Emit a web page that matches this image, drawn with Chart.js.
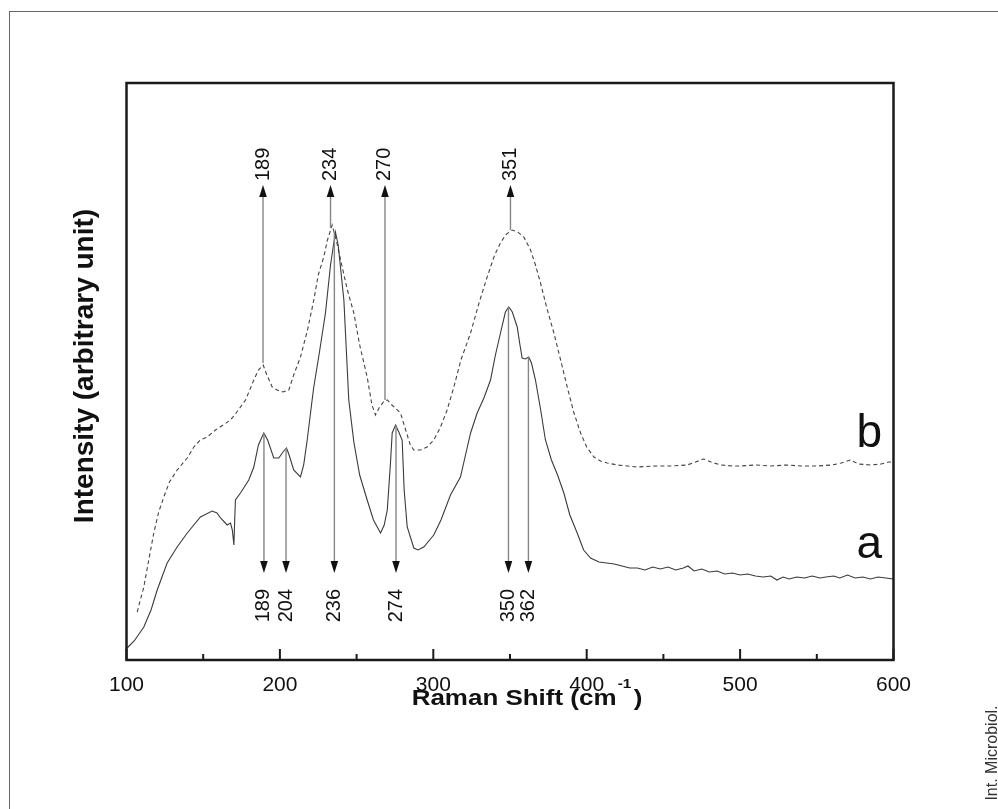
<!DOCTYPE html>
<html>
<head>
<meta charset="utf-8">
<title>Raman spectra</title>
<script src="https://cdn.jsdelivr.net/npm/chart.js@4.4.0/dist/chart.umd.min.js"></script>
<style>
  html, body { margin: 0; padding: 0; background: #fff; }
  #wrap { position: relative; width: 998px; height: 809px; overflow: hidden; }
  #frame { position: absolute; left: 9px; top: 11px; width: 1000px; height: 820px; border-left: 1.5px solid #666; border-top: 1.5px solid #666; }
  #raman { position: absolute; left: 0; top: 0; }
</style>
</head>
<body>
<div id="wrap">
  <div id="frame"></div>
  <canvas id="raman" width="998" height="809"></canvas>
</div>
<script>
// spectrum a (solid)
const aShift = [100.4, 105, 111.3, 116, 120, 126.5, 133, 139.6, 148.2, 155.8, 159, 161.3, 165.6, 167.8, 169, 170, 171, 174.3, 179.7, 183, 186, 189.5, 192, 196, 199.3, 202, 204.3, 206, 209, 213.4, 215.5, 217.8, 221, 222.1, 226, 229.7, 233, 236.2, 238, 241.7, 244.9, 248.2, 252, 256.9, 261, 265.6, 268, 270, 272, 273.2, 275.4, 277.5, 279.7, 281, 283, 287.3, 290, 293.8, 300.3, 305, 311.2, 317.7, 321, 324.3, 328.6, 333, 337.3, 340.5, 343.8, 347, 349.2, 351.5, 354.7, 356.5, 357.9, 360, 362.2, 364, 366.6, 370, 373.1, 377, 381, 385.1, 389, 393.8, 398, 402.5, 408, 413, 418, 423, 428, 433, 438, 443, 448, 453, 458, 463, 466, 470, 475, 480, 485, 490, 495, 500, 505, 510, 515, 520, 524, 528, 532, 537, 542, 547, 552, 556, 561, 565, 570, 575, 580, 585, 590, 595, 600];
const aIntensity = [1.2, 1.9, 3.3, 5.0, 7.0, 9.7, 11.3, 12.7, 14.3, 14.9, 14.7, 14.2, 13.5, 13.7, 13.0, 11.5, 16.0, 16.7, 18.0, 19.3, 21.5, 22.7, 22.0, 20.2, 20.2, 20.8, 21.2, 20.5, 19.0, 18.3, 19.5, 22.0, 26.0, 27.3, 31.0, 34.7, 39.5, 42.8, 41.5, 36.0, 26.0, 21.8, 18.5, 16.0, 14.0, 12.7, 13.5, 15.0, 19.5, 22.7, 23.5, 22.8, 22.0, 17.0, 13.3, 11.2, 11.0, 11.3, 12.5, 14.0, 16.5, 18.3, 20.5, 22.7, 24.7, 26.2, 28.0, 30.5, 32.7, 34.8, 35.3, 34.8, 33.3, 31.5, 30.2, 30.1, 30.3, 29.7, 28.0, 25.0, 22.0, 20.0, 18.5, 16.7, 14.5, 12.7, 11.0, 10.2, 9.8, 9.7, 9.6, 9.4, 9.2, 9.2, 9.0, 9.3, 9.1, 9.3, 9.0, 9.2, 9.4, 8.9, 9.1, 8.8, 8.9, 8.6, 8.7, 8.5, 8.6, 8.4, 8.3, 8.4, 8.0, 8.3, 8.1, 8.3, 8.2, 8.4, 8.2, 8.3, 8.4, 8.2, 8.5, 8.2, 8.3, 8.1, 8.3, 8.2, 8.1];

// spectrum b (dashed)
const bShift = [107, 109, 111.3, 114.5, 117.8, 121, 124.3, 128, 133, 139.6, 143.9, 148, 152.6, 158, 163, 167.8, 171, 174.3, 177.6, 183, 186, 189.1, 191.5, 195, 198.2, 202, 205.8, 209, 213.4, 218, 222.1, 225, 228.6, 231, 234.1, 237, 240.6, 244, 248.2, 252, 256.9, 260, 262.3, 265, 267.5, 270, 273, 278.6, 282, 285, 287.3, 291.7, 296, 300.3, 304.7, 309, 313.4, 318, 324.3, 330, 335.1, 340, 343.8, 347, 351.4, 355, 359, 363.4, 366.6, 369.9, 374, 378.6, 383, 387.3, 391.5, 396, 400, 404.7, 409, 413.4, 420, 432.9, 445, 455, 465.5, 471, 476.3, 481, 487.2, 495, 500.3, 510, 520, 530, 540, 550, 560, 566, 572, 577, 585, 592, 597, 600];
const bIntensity = [4.8, 6.0, 7.3, 10.0, 12.7, 14.8, 16.3, 17.8, 19.0, 20.2, 21.3, 22.0, 22.3, 23.0, 23.5, 24.0, 24.6, 25.3, 26.0, 28.0, 29.0, 29.5, 28.5, 27.3, 27.0, 26.8, 27.0, 28.5, 30.3, 33.0, 36.0, 38.5, 40.3, 42.0, 43.5, 41.8, 39.3, 37.0, 34.7, 31.5, 28.3, 25.5, 24.5, 25.3, 25.8, 26.0, 25.5, 24.7, 23.0, 21.5, 21.0, 21.0, 21.3, 22.0, 23.3, 25.0, 27.3, 30.0, 32.7, 35.8, 38.3, 40.5, 41.7, 42.5, 43.0, 42.8, 42.3, 41.0, 39.5, 37.7, 35.2, 32.7, 30.0, 27.3, 24.8, 22.7, 21.3, 20.3, 19.9, 19.7, 19.5, 19.3, 19.4, 19.4, 19.5, 19.8, 20.1, 19.8, 19.5, 19.4, 19.4, 19.5, 19.4, 19.5, 19.4, 19.4, 19.5, 19.7, 20.0, 19.6, 19.5, 19.6, 19.8, 19.8];

// peak markers
const topLabels = ['189', '234', '270', '351'];
const topAt = [189, 233, 268.5, 350.3];
const topFrom = [29.7, 43.2, 26.0, 43.0];
const bottomLabels = ['189', '204', '236', '274', '350', '362'];
const bottomAt = [189.6, 204, 235.5, 275.7, 349, 362];
const bottomFrom = [22.7, 21.2, 42.8, 23.5, 35.3, 30.3];

const majorTicks = [100, 200, 300, 400, 500, 600];
const minorTicks = [150, 250, 350, 450, 550];

const FONT = '"Liberation Sans", Arial, Helvetica, sans-serif';

function pairs(xs, ys) {
  return xs.map((v, i) => ({ x: v, y: ys[i] }));
}

function drawArrow(ctx, px, fromY, tipY) {
  const dir = tipY < fromY ? 1 : -1;
  const head = 12;
  ctx.strokeStyle = '#858585';
  ctx.lineWidth = 1.4;
  ctx.beginPath();
  ctx.moveTo(px, fromY);
  ctx.lineTo(px, tipY + dir * head);
  ctx.stroke();
  ctx.fillStyle = '#111';
  ctx.beginPath();
  ctx.moveTo(px, tipY);
  ctx.lineTo(px - 3.8, tipY + dir * head);
  ctx.lineTo(px + 3.8, tipY + dir * head);
  ctx.closePath();
  ctx.fill();
}

function rotatedText(ctx, text, px, py, align, baseline) {
  ctx.save();
  ctx.translate(px, py);
  ctx.rotate(-Math.PI / 2);
  ctx.textAlign = align;
  ctx.textBaseline = baseline;
  ctx.fillText(text, 0, 0);
  ctx.restore();
}

const ramanDecor = {
  id: 'ramanDecor',
  afterDatasetsDraw(chart) {
    const { ctx, chartArea: area, scales: { x, y } } = chart;
    ctx.save();

    // peak arrows + labels
    topLabels.forEach((t, i) => {
      const px = x.getPixelForValue(topAt[i]);
      drawArrow(ctx, px, y.getPixelForValue(topFrom[i]), y.getPixelForValue(47.5));
      ctx.fillStyle = '#111';
      ctx.font = '20px ' + FONT;
      rotatedText(ctx, t, px, y.getPixelForValue(47.9), 'left', 'middle');
    });
    bottomLabels.forEach((t, i) => {
      const px = x.getPixelForValue(bottomAt[i]);
      drawArrow(ctx, px, y.getPixelForValue(bottomFrom[i]), y.getPixelForValue(8.7));
      ctx.fillStyle = '#111';
      ctx.font = '20px ' + FONT;
      rotatedText(ctx, t, px, y.getPixelForValue(7.1), 'right', 'middle');
    });

    // curve names
    ctx.fillStyle = '#111';
    ctx.font = '46px ' + FONT;
    ctx.textAlign = 'right';
    ctx.textBaseline = 'alphabetic';
    ctx.fillText('b', x.getPixelForValue(592.5), y.getPixelForValue(21.3));
    ctx.fillText('a', x.getPixelForValue(592.5), y.getPixelForValue(10.2));

    // frame and inward ticks
    ctx.strokeStyle = '#1a1a1a';
    ctx.lineWidth = 2.5;
    ctx.strokeRect(area.left, area.top, area.right - area.left, area.bottom - area.top);
    ctx.lineWidth = 2;
    majorTicks.forEach(v => {
      const px = x.getPixelForValue(v);
      ctx.beginPath(); ctx.moveTo(px, area.bottom); ctx.lineTo(px, area.bottom - 11); ctx.stroke();
    });
    minorTicks.forEach(v => {
      const px = x.getPixelForValue(v);
      ctx.beginPath(); ctx.moveTo(px, area.bottom); ctx.lineTo(px, area.bottom - 6); ctx.stroke();
    });

    // x title, widened a little like the original lettering
    const main = 'Raman Shift (cm';
    const sup = '-1';
    ctx.font = 'bold 22px ' + FONT;
    const w1 = ctx.measureText(main).width;
    const w3 = ctx.measureText(')').width;
    ctx.font = 'bold 13px ' + FONT;
    const w2 = ctx.measureText(sup).width;
    const total = w1 + w2 + w3 + 3;
    const sx = 1.18;
    ctx.save();
    ctx.translate(527, 705);
    ctx.scale(sx, 1);
    ctx.fillStyle = '#111';
    ctx.textAlign = 'left';
    ctx.textBaseline = 'alphabetic';
    let tx = -total / 2;
    ctx.font = 'bold 22px ' + FONT;
    ctx.fillText(main, tx, 0);
    ctx.font = 'bold 13px ' + FONT;
    ctx.fillText(sup, tx + w1 + 1, -17);
    ctx.font = 'bold 22px ' + FONT;
    ctx.fillText(')', tx + w1 + w2 + 3, 0);
    ctx.restore();

    ctx.fillStyle = '#111';
    ctx.font = 'bold 28px ' + FONT;
    rotatedText(ctx, 'Intensity (arbitrary unit)', 93, 366, 'center', 'alphabetic');

    ctx.font = '16px ' + FONT;
    ctx.fillStyle = '#333';
    rotatedText(ctx, 'Int. Microbiol.', 997, 753, 'center', 'alphabetic');

    ctx.restore();
  }
};

new Chart(document.getElementById('raman'), {
  type: 'line',
  data: {
    datasets: [
      { label: 'a', data: pairs(aShift, aIntensity), borderColor: '#3a3a3a', borderWidth: 1.1, pointRadius: 0, tension: 0, fill: false },
      { label: 'b', data: pairs(bShift, bIntensity), borderColor: '#444', borderWidth: 1.1, borderDash: [4, 3], pointRadius: 0, tension: 0, fill: false }
    ]
  },
  options: {
    responsive: false,
    animation: false,
    events: [],
    layout: { padding: { left: 126.5, top: 83, right: 104.5, bottom: 0 } },
    plugins: { legend: { display: false }, tooltip: { enabled: false } },
    scales: {
      x: {
        type: 'linear', min: 100, max: 600,
        afterFit: s => { s.height = 149; },
        grid: { display: false, drawTicks: false },
        border: { display: false },
        ticks: { stepSize: 100, padding: 13, color: '#111', font: { family: FONT, size: 21 } }
      },
      y: { type: 'linear', min: 0, max: 57.7, display: false }
    }
  },
  plugins: [ramanDecor]
});
</script>
</body>
</html>
